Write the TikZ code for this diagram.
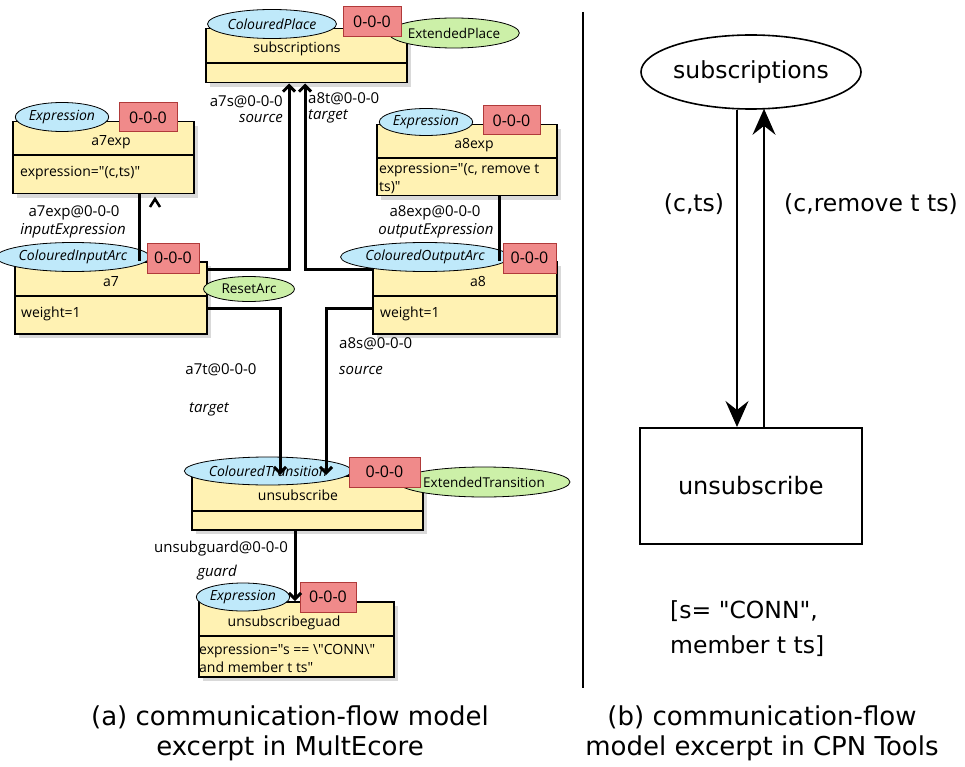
\documentclass[tikz,border=0pt]{standalone}
\usepackage{fontspec}
\usetikzlibrary{arrows.meta,shadows,shapes.geometric,calc}
\newfontfamily\uifont{Open Sans}
\newfontfamily\dvfont{DejaVu Sans}
\definecolor{boxyellow}{HTML}{FFF2B3}
\definecolor{typeblue}{HTML}{BFE9FA}
\definecolor{suppgreen}{HTML}{CCF0A8}
\definecolor{potred}{HTML}{F08A8A}
\definecolor{potborder}{HTML}{B03A3A}
\tikzset{
  umlbox/.style={draw=black, line width=1.5pt, fill=boxyellow, inner sep=0pt, anchor=north west,
    drop shadow={shadow xshift=4pt, shadow yshift=-4pt, fill=gray!30, opacity=1}},
  divider/.style={draw=black, line width=1.5pt},
  typeell/.style={ellipse, draw=black, line width=0.8pt, fill=typeblue, inner sep=0pt,
    font=\uifont\itshape\fontsize{14}{16}\selectfont},
  suppell/.style={ellipse, draw=black, line width=0.8pt, fill=suppgreen, inner sep=0pt,
    font=\uifont\fontsize{13.5}{15}\selectfont},
  potbox/.style={rectangle, draw=potborder, line width=1pt, fill=potred, inner sep=0pt,
    font=\uifont\fontsize{16}{18}\selectfont},
  lbl/.style={inner sep=0pt, font=\uifont\fontsize{14}{16}\selectfont},
  clbl/.style={inner sep=0pt, font=\uifont\fontsize{15}{17}\selectfont},
  ilbl/.style={inner sep=0pt, font=\uifont\itshape\fontsize{15}{17}\selectfont},
  mlink/.style={draw=black, line width=3pt},
  marr/.style={mlink, -{Straight Barb[length=6pt,width=12pt]}},
  cpnlbl/.style={inner sep=0pt, font=\dvfont\fontsize{23.5}{28}\selectfont},
  cpnarr/.style={draw=black, line width=1.6pt, -{Stealth[length=26pt,width=23pt,inset=9pt]}},
  caption/.style={inner sep=0pt, align=center, font=\dvfont\fontsize{26}{30}\selectfont}
}
\begin{document}
\begin{tikzpicture}[x=1pt,y=-1pt]
\useasboundingbox (0,0) rectangle (965,767);

% ---------------- left: MultEcore ----------------
% boxes
\node[umlbox, minimum width=201pt, minimum height=54pt] (subs) at (205,28) {};
\draw[divider] (subs.west |- 0,63) -- (subs.east |- 0,63);
\node[umlbox, minimum width=181pt, minimum height=72pt] (a7exp) at (12,121) {};
\draw[divider] (a7exp.west |- 0,155) -- (a7exp.east |- 0,155);
\node[umlbox, minimum width=180pt, minimum height=71pt] (a8exp) at (376,124) {};
\draw[divider] (a8exp.west |- 0,158) -- (a8exp.east |- 0,158);
\node[umlbox, minimum width=192pt, minimum height=72pt] (a7) at (14,261) {};
\draw[divider] (a7.west |- 0,296) -- (a7.east |- 0,296);
\node[umlbox, minimum width=184pt, minimum height=72pt] (a8) at (372,261) {};
\draw[divider] (a8.west |- 0,296) -- (a8.east |- 0,296);
\node[umlbox, minimum width=231pt, minimum height=54pt] (unsub) at (191,475) {};
\draw[divider] (unsub.west |- 0,511) -- (unsub.east |- 0,511);
\node[umlbox, minimum width=195pt, minimum height=75pt] (guard) at (198,601) {};
\draw[divider] (guard.west |- 0,636) -- (guard.east |- 0,636);

% box texts
\node[lbl, anchor=base] (subsN) at (297,53) {subscriptions};
\node[lbl, anchor=base] (a7expN) at (111,146) {a7exp};
\node[lbl, anchor=base west] (a7expA) at (20,177) {expression="(c,ts)"};
\node[lbl, anchor=base] (a8expN) at (474,149) {a8exp};
\node[lbl, anchor=base west] (a8expA) at (379,174) {expression="(c, remove t};
\node[lbl, anchor=base west] (a8expB) at (379,192) {ts)"};
\node[lbl, anchor=base] (a7N) at (111,286) {a7};
\node[lbl, anchor=base west] (a7A) at (21,317) {weight=1};
\node[lbl, anchor=base] (a8N) at (478,286) {a8};
\node[lbl, anchor=base west] (a8A) at (380,317) {weight=1};
\node[lbl, anchor=base] (unsubN) at (298,500) {unsubscribe};
\node[lbl, anchor=base] (guardN) at (284,626) {unsubscribeguad};
\node[lbl, anchor=base west] (guardA) at (199,654) {expression="s == \textbackslash"CONN\textbackslash"};
\node[lbl, anchor=base west] (guardB) at (199,672) {and member t ts"};

% type ellipses
\node[typeell, minimum width=129pt, minimum height=29pt] (subsT) at (272,24) {ColouredPlace};
\node[typeell, minimum width=91pt, minimum height=29pt] (a7expT) at (62,117) {Expression};
\node[typeell, minimum width=91pt, minimum height=27pt] (a8expT) at (426,122) {Expression};
\node[typeell, minimum width=131pt, minimum height=29pt] (a7T) at (73,257) {ColouredInputArc};
\node[typeell, minimum width=147pt, minimum height=29pt] (a8T) at (425,257) {ColouredOutputArc};
\node[typeell, minimum width=155pt, minimum height=28pt] (unsubT) at (268,471) {ColouredTransition};
\node[typeell, minimum width=91pt, minimum height=28pt] (guardT) at (243,597) {Expression};

% supplementary ellipses
\node[suppell, minimum width=93pt, minimum height=30pt] (subsS) at (454,33) {ExtendedPlace};
\node[suppell, minimum width=91pt, minimum height=25pt] (a7S) at (249,289) {ResetArc};
\node[suppell, minimum width=127pt, minimum height=30pt] (unsubS) at (484,482) {ExtendedTransition};

% potency boxes
\node[potbox, minimum width=58pt, minimum height=30pt] (subsP) at (372,22) {0-0-0};
\node[potbox, minimum width=58pt, minimum height=29pt] (a7expP) at (148,117.5) {0-0-0};
\node[potbox, minimum width=57pt, minimum height=29pt] (a8expP) at (511.5,120.5) {0-0-0};
\node[potbox, minimum width=52pt, minimum height=30pt] (a7P) at (173,258) {0-0-0};
\node[potbox, minimum width=53pt, minimum height=30pt] (a8P) at (529.5,258) {0-0-0};
\node[potbox, minimum width=71pt, minimum height=30pt] (unsubP) at (384.5,472) {0-0-0};
\node[potbox, minimum width=56pt, minimum height=30pt] (guardP) at (328,597) {0-0-0};

% connectors
\coordinate (a7sC) at (289,269);
\coordinate (a8tC) at (305,269);
\coordinate (a7eC) at (139,0);
\coordinate (a8eC) at (499,0);
\coordinate (a7tC) at (280,308);
\coordinate (a8sC) at (326,308);
\coordinate (gC) at (295,0);
\draw[marr] (a7sC -| a7.east) -| (subs.south -| a7sC);
\draw[marr] (a8tC -| a8.west) -| (subs.south -| a8tC);
\draw[mlink] (a7eC |- a7.north) -- (a7eC |- a7exp.south);
\draw[mlink] (a8eC |- a8.north) -- (a8eC |- a8exp.south);
\draw[line width=2.5pt] (150,207) -- (155,199) -- (160,207);
\draw[marr] (a7tC -| a7.east) -| (unsub.north -| a7tC);
\draw[marr] (a8sC -| a8.west) -| (unsub.north -| a8sC);
\draw[marr] (gC |- unsub.south) -- (gC |- guard.north);

% connector labels
\node[clbl, anchor=base east] (l1) at (283,107) {a7s@0-0-0};
\node[ilbl, anchor=base east] (l2) at (283,123) {source};
\node[clbl, anchor=base west] (l3) at (308,104) {a8t@0-0-0};
\node[ilbl, anchor=base west] (l4) at (308,120) {target};
\node[clbl, anchor=base] (l5) at (74,216) {a7exp@0-0-0};
\node[ilbl, anchor=base] (l6) at (73,234) {inputExpression};
\node[clbl, anchor=base] (l7) at (435,216) {a8exp@0-0-0};
\node[ilbl, anchor=base] (l8) at (436,234) {outputExpression};
\node[clbl, anchor=base] (l9) at (221,374) {a7t@0-0-0};
\node[ilbl, anchor=base] (l10) at (209,412) {target};
\node[clbl, anchor=base west] (l11) at (339,348) {a8s@0-0-0};
\node[ilbl, anchor=base west] (l12) at (339,374) {source};
\node[clbl, anchor=base] (l13) at (221,552) {unsubguard@0-0-0};
\node[ilbl, anchor=base] (l14) at (217,576) {guard};

% ---------------- separator ----------------
\coordinate (sepT) at (583,12);
\coordinate (sepB) at (583,688);
\draw[line width=2pt] (sepT) -- (sepB);

% ---------------- right: CPN Tools ----------------
\node[ellipse, draw=black, line width=1.6pt, minimum width=199pt, minimum height=74pt, inner sep=0pt,
      font=\dvfont\fontsize{23.5}{28}\selectfont] (cSubs) at (751,72) {subscriptions};
\node[rectangle, draw=black, line width=1.6pt, minimum width=222pt, minimum height=116pt, inner sep=0pt,
      anchor=north west, font=\dvfont\fontsize{24}{28}\selectfont] (cUnsub) at (639,427) {unsubscribe};
\coordinate (cDown) at (737,0);
\coordinate (cUp) at (764,0);
\draw[cpnarr] (cDown |- cSubs.south) -- (cDown |- cUnsub.north);
\draw[cpnarr] (cUp |- cUnsub.north) -- ($(cUp |- cSubs.south)+(0,-1)$);
\node[cpnlbl] (cL1) at (694,204) {(c,ts)};
\node[cpnlbl] (cL2) at (871,204) {(c,remove t ts)};
\node[cpnlbl, anchor=base west] (cG1) at (670,618) {[s= "CONN",};
\node[cpnlbl, anchor=base west] (cG2) at (670,653) {member t ts]};

% ---------------- captions ----------------
\node[caption] (capA) at (290,733) {(a) communication-flow model\\excerpt in MultEcore};
\node[caption] (capB) at (762,733) {(b) communication-flow\\model excerpt in CPN Tools};
\end{tikzpicture}
\end{document}
